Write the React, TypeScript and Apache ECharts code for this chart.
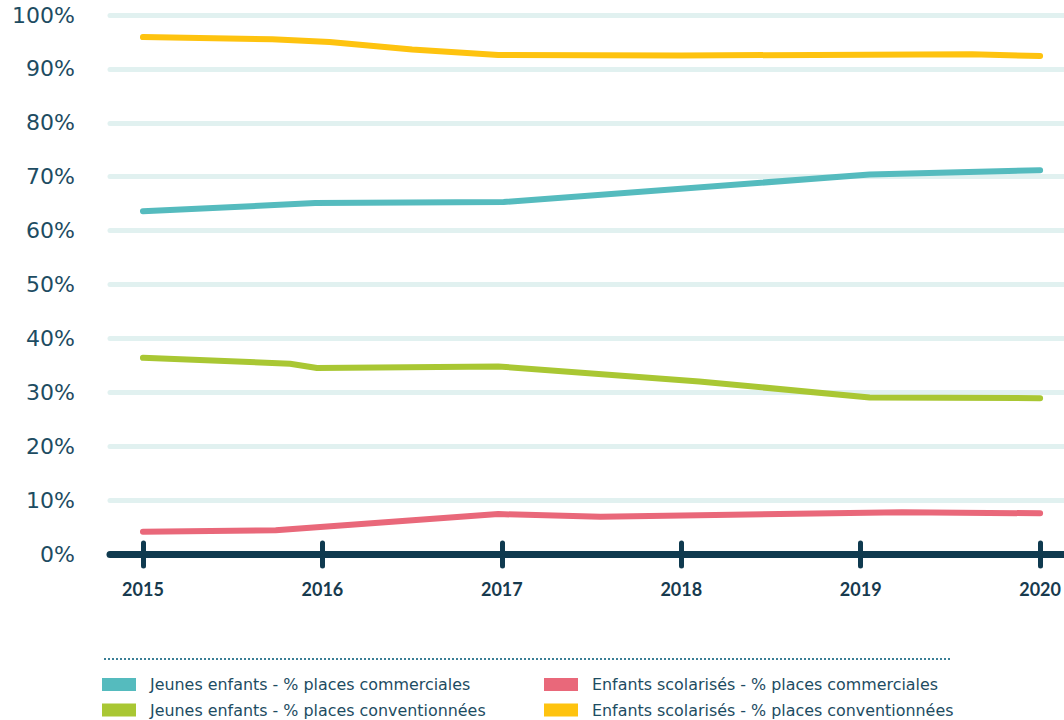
import React, { useEffect, useRef } from "react";
import * as echarts from "echarts";

// Share of places (%) by year, [year, value]
const years = [2015, 2016, 2017, 2018, 2019, 2020];
const yTicks = [0, 10, 20, 30, 40, 50, 60, 70, 80, 90, 100];

const jeunesCommerciales: [number, number][] = [
  [2015, 63.6], [2015.96, 65.1], [2017.01, 65.3], [2019.05, 70.4], [2020, 71.2],
];
const jeunesConventionnees: [number, number][] = [
  [2015, 36.4], [2015.82, 35.3], [2015.97, 34.5], [2016.98, 34.8],
  [2018.1, 32.0], [2019.05, 29.05], [2020, 28.9],
];
const scolarisesCommerciales: [number, number][] = [
  [2015, 4.15], [2015.74, 4.4], [2016.98, 7.4], [2017.55, 6.9],
  [2019.23, 7.75], [2020, 7.55],
];
const scolarisesConventionnees: [number, number][] = [
  [2015, 95.9], [2015.72, 95.5], [2016.04, 95.0], [2016.5, 93.6],
  [2016.98, 92.6], [2018, 92.5], [2019.62, 92.7], [2020, 92.4],
];

const names = [
  "Jeunes enfants - % places commerciales",
  "Jeunes enfants - % places conventionnées",
  "Enfants scolarisés - % places commerciales",
  "Enfants scolarisés - % places conventionnées",
];
const colors = ["#55BBBE", "#A9C733", "#E9687A", "#FEC30F"];

const NAVY = "#0F3A4F";
const TEXT = "#1D4C62";

export default function App() {
  const ref = useRef<HTMLDivElement>(null);

  useEffect(() => {
    document.body.style.margin = "0";
    const chart = echarts.init(ref.current!, null, { renderer: "svg" });
    const xMin = 2015 - 33 / 179.6;
    const xMax = 2020 + 23 / 179.6;
    const seriesData = [
      jeunesCommerciales,
      jeunesConventionnees,
      scolarisesCommerciales,
      scolarisesConventionnees,
    ];

    const legendBase = {
      orient: "vertical" as const,
      top: 676.5,
      padding: 0,
      itemWidth: 34,
      itemHeight: 13,
      itemGap: 9.5,
      icon: "rect",
      textStyle: {
        fontFamily: "DejaVu Sans",
        fontSize: 15.9,
        color: TEXT,
        lineHeight: 16,
        padding: [0, 0, 0, 9],
      },
    };

    chart.setOption({
      animation: false,
      grid: { left: 110, right: 0, top: 15, height: 539 },
      xAxis: [
        {
          type: "value",
          min: xMin,
          max: xMax,
          splitLine: { show: false },
          axisLine: {
            show: true,
            lineStyle: { color: NAVY, width: 7, cap: "round" },
          },
          axisTick: {
            show: true,
            customValues: years,
            length: 12,
            lineStyle: { color: NAVY, width: 5, cap: "round" },
          },
          axisLabel: {
            customValues: years,
            formatter: (v: number) => String(Math.round(v)),
            margin: 26,
            fontFamily: "Lato",
            fontWeight: "bold",
            fontSize: 18,
            color: "#173A4E",
          },
        },
        {
          type: "value",
          position: "bottom",
          min: xMin,
          max: xMax,
          splitLine: { show: false },
          axisLine: { show: false },
          axisTick: {
            show: true,
            inside: true,
            customValues: years,
            length: 11,
            lineStyle: { color: NAVY, width: 5, cap: "round" },
          },
          axisLabel: { show: false },
        },
      ],
      yAxis: {
        type: "value",
        min: 0,
        max: 100,
        interval: 10,
        axisLine: { show: false },
        axisTick: { show: false },
        axisLabel: {
          customValues: yTicks,
          formatter: "{value}%",
          margin: 35,
          fontFamily: "DejaVu Sans",
          fontSize: 22,
          color: TEXT,
        },
        splitLine: {
          show: true,
          lineStyle: { color: "#E1F1F0", width: 5, cap: "round" },
        },
      },
      legend: [
        { ...legendBase, left: 102, data: [names[0], names[1]] },
        { ...legendBase, left: 544, data: [names[2], names[3]] },
      ],
      graphic: [
        {
          type: "line",
          shape: { x1: 104, y1: 659, x2: 950, y2: 659 },
          style: {
            stroke: "#3B7F96",
            lineWidth: 2,
            lineDash: [2, 2],
          },
        },
      ],
      series: seriesData.map((d, i) => ({
        name: names[i],
        type: "line",
        xAxisIndex: 0,
        data: d,
        showSymbol: false,
        symbol: "none",
        color: colors[i],
        itemStyle: { color: colors[i] },
        lineStyle: { color: colors[i], width: 6, cap: "round", join: "round" },
      })),
    });

    return () => chart.dispose();
  }, []);

  return (
    <div
      ref={ref}
      style={{ position: "absolute", left: 0, top: 0, width: 1064, height: 720 }}
    />
  );
}
